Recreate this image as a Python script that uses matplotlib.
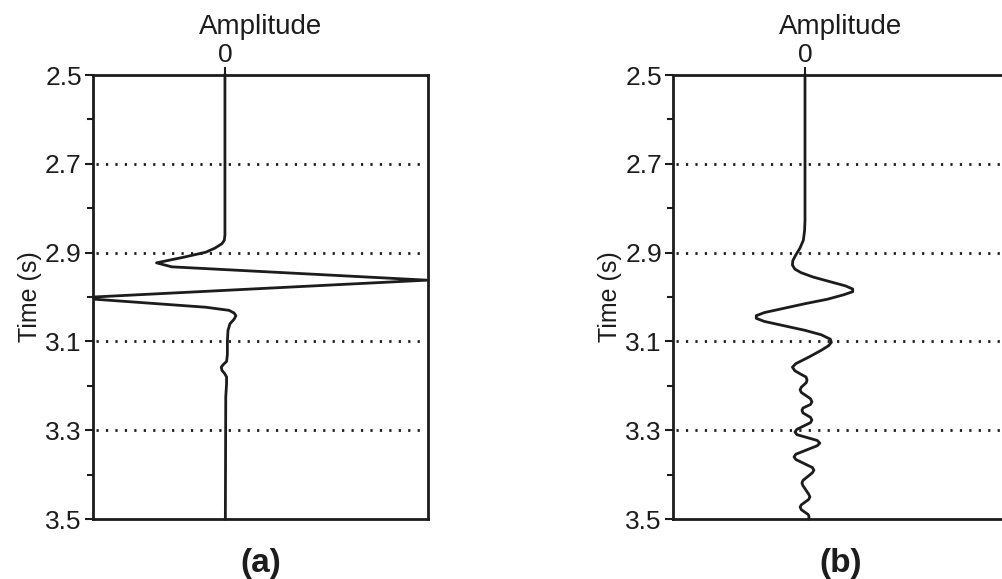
import numpy as np
import matplotlib
matplotlib.use("Agg")
import matplotlib.pyplot as plt
from matplotlib.ticker import MultipleLocator

plt.rcParams['font.family'] = ['Liberation Sans', 'DejaVu Sans']

# trace (a): time (s) and amplitude
time_a = [2.50, 2.860, 2.872, 2.880, 2.890, 2.899, 2.910, 2.923, 2.932, 2.962,
          3.000, 3.005, 3.023, 3.030, 3.036, 3.042, 3.050, 3.060, 3.075, 3.100,
          3.130, 3.145, 3.152, 3.158, 3.165, 3.172, 3.180, 3.195, 3.225, 3.50]
amp_a = [0.0, 0.0, -0.003, -0.015, -0.05, -0.094, -0.20, -0.337, -0.262, 0.995,
         -0.649, -0.639, -0.094, 0.02, 0.045, 0.054, 0.045, 0.025, 0.015, 0.012,
         0.012, 0.008, -0.008, -0.018, -0.015, -0.002, 0.008, 0.008, 0.004, 0.002]

# trace (b): time (s) and amplitude
time_b = [2.50, 2.827, 2.850, 2.872, 2.890, 2.905, 2.918, 2.928, 2.937, 2.945,
          2.955, 2.965, 2.975, 2.982, 2.988, 2.995, 3.005, 3.015, 3.025, 3.035,
          3.042, 3.048, 3.055, 3.065, 3.075, 3.085, 3.095, 3.102, 3.110, 3.120,
          3.135, 3.150, 3.158, 3.166, 3.174,
          3.180, 3.187, 3.193, 3.203, 3.209, 3.215, 3.229, 3.236, 3.242,
          3.250, 3.255, 3.261, 3.271, 3.277, 3.283, 3.298, 3.304, 3.310,
          3.323, 3.329, 3.335, 3.354, 3.360, 3.366, 3.384, 3.390, 3.396,
          3.413, 3.419, 3.425, 3.444, 3.450, 3.456, 3.468, 3.473, 3.479,
          3.490, 3.495, 3.500]
amp_b = [0.0, 0.0, -0.002, -0.008, -0.025, -0.045, -0.060, -0.062, -0.050, -0.020,
         0.040, 0.120, 0.200, 0.235, 0.235, 0.190, 0.110, 0.0, -0.100, -0.200,
         -0.240, -0.240, -0.200, -0.100, 0.0, 0.080, 0.125, 0.130, 0.115, 0.080,
         0.020, -0.045, -0.062, -0.050, -0.020,
         0.005, 0.010, 0.006, -0.018, -0.024, -0.018, 0.027, 0.034, 0.027,
         -0.010, -0.015, -0.010, 0.027, 0.034, 0.027, -0.040, -0.049, -0.040,
         0.060, 0.073, 0.060, -0.045, -0.054, -0.045, 0.036, 0.044, 0.036,
         -0.010, -0.015, -0.010, 0.018, 0.024, 0.018, -0.018, -0.024, -0.018,
         0.016, 0.020, 0.018]

grid_times = [2.7, 2.9, 3.1, 3.3]
time_ticks = [2.5, 2.7, 2.9, 3.1, 3.3, 3.5]
panel_labels = ['(a)', '(b)']

ink = '#1c1c1c'

fig = plt.figure(figsize=(10.02, 5.79), dpi=100)
ax_a = fig.add_axes([0.0928, 0.1036, 0.3343, 0.7668])
ax_b = fig.add_axes([0.6717, 0.1036, 0.3343, 0.7668])

for ax, t, a, lab in [(ax_a, time_a, amp_a, panel_labels[0]),
                      (ax_b, time_b, amp_b, panel_labels[1])]:
    ax.plot(a, t, color=ink, lw=2.0, solid_joinstyle='round', clip_on=False)
    # dotted reference lines across the panel
    for g in grid_times:
        ax.axhline(g, color=ink, lw=2.0, ls=(0, (0.8, 2.6)),
                   dash_capstyle='butt', xmin=0.008, xmax=0.99)
    ax.set_ylim(3.5, 2.5)
    ax.set_xlim(-0.65, 1.0)
    ax.yaxis.set_minor_locator(MultipleLocator(0.1))
    ax.set_yticks(time_ticks)
    ax.set_yticklabels([f'{v:.1f}' for v in time_ticks])
    ax.tick_params(axis='y', which='major', direction='out', length=6, width=1.5,
                   labelsize=19, pad=2, colors=ink)
    ax.tick_params(axis='y', which='minor', direction='out', length=4, width=1.5,
                   colors=ink)
    ax.xaxis.tick_top()
    ax.set_xticks([0])
    ax.set_xticklabels(['0'])
    ax.tick_params(axis='x', direction='out', length=5.5, width=1.5, labelsize=19,
                   pad=0.5, colors=ink)
    ax.xaxis.set_label_position('top')
    ax.set_xlabel('Amplitude', fontsize=20, labelpad=6, color=ink)
    ax.set_ylabel('Time (s)', fontsize=18, labelpad=2, color=ink)
    for sp in ax.spines.values():
        sp.set_linewidth(2.0)
        sp.set_color(ink)
    ax.text(0.5, -0.1, lab, transform=ax.transAxes, ha='center', va='center',
            fontsize=24, fontweight='bold', color=ink)

fig.savefig('out.png', dpi=100, facecolor='white')
